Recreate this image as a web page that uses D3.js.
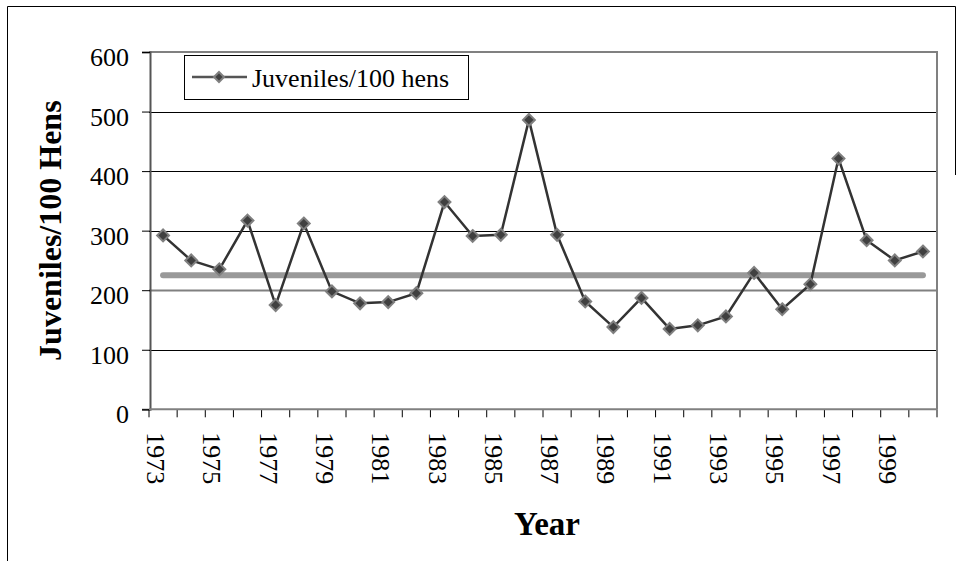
<!DOCTYPE html>
<html>
<head>
<meta charset="utf-8">
<script src="https://cdn.jsdelivr.net/npm/d3@7"></script>
<style>
  body { margin: 0; background: #fff; }
  text { font-family: "Liberation Serif", "Times New Roman", serif; }
</style>
</head>
<body>
<div id="chart"></div>
<script>
// data
var years = [1973, 1974, 1975, 1976, 1977, 1978, 1979, 1980, 1981, 1982, 1983, 1984, 1985, 1986,
             1987, 1988, 1989, 1990, 1991, 1992, 1993, 1994, 1995, 1996, 1997, 1998, 1999, 2000];
var juveniles = [292, 250, 235, 317, 175, 312, 198, 178, 180, 195, 348, 291, 293, 486,
                 293, 181, 138, 187, 135, 141, 156, 229, 168, 210, 421, 284, 250, 265];
var longTermAvg = 225;
var yTicks = [0, 100, 200, 300, 400, 500, 600];
var seriesName = "Juveniles/100 hens";

var width = 963, height = 561;
var margin = {top: 52, right: 26, bottom: 152, left: 149};

var svg = d3.select("#chart").append("svg")
    .attr("width", width)
    .attr("height", height);

// outer frame (cropped at the bottom in the original)
svg.append("path")
    .attr("d", "M7.5,561 V6.5 H955.5 V175")
    .attr("fill", "none")
    .attr("stroke", "#000")
    .attr("stroke-width", 1);

var x = d3.scaleBand()
    .domain(years)
    .range([margin.left, width - margin.right]);

var y = d3.scaleLinear()
    .domain([0, 600])
    .range([height - margin.bottom + 0.3, margin.top]);

var cx = function(d) { return x(d) + x.bandwidth() / 2; };

// gridlines
svg.append("g")
    .selectAll("line")
    .data(yTicks.filter(function(d) { return d > 0 && d < 600; }))
    .enter().append("line")
    .attr("x1", margin.left)
    .attr("x2", width - margin.right)
    .attr("y1", function(d) { return Math.round(y(d)) + 0.5; })
    .attr("y2", function(d) { return Math.round(y(d)) + 0.5; })
    .attr("stroke", function(d) { return d == 200 ? "#808080" : "#000"; })
    .attr("stroke-width", function(d) { return d == 200 ? 2 : 1; });

// plot area border (top / right)
svg.append("path")
    .attr("d", "M" + margin.left + "," + y(600) + " H" + (width - margin.right) + " V" + y(0))
    .attr("fill", "none")
    .attr("stroke", "#808080")
    .attr("stroke-width", 2);

// y axis
var yAxis = d3.axisLeft(y)
    .tickValues(yTicks)
    .tickSize(8)
    .tickFormat(d3.format("d"));

var gy = svg.append("g")
    .attr("transform", "translate(" + (margin.left + 1) + ",0)")
    .call(yAxis);
gy.select(".domain").attr("stroke", "#555").attr("stroke-width", 2);
gy.selectAll(".tick line").attr("stroke", "#000");
gy.selectAll(".tick text")
    .attr("x", -21)
    .attr("dy", "0.52em")
    .attr("font-size", 26)
    .attr("fill", "#000")
    .style("font-family", "Liberation Serif, serif");

// x axis: ticks on category boundaries
var gx = svg.append("g");
gx.selectAll("line")
    .data(years.concat([null]))
    .enter().append("line")
    .attr("x1", function(d, i) { return i < years.length ? x(d) : x(years[years.length - 1]) + x.bandwidth(); })
    .attr("x2", function(d, i) { return i < years.length ? x(d) : x(years[years.length - 1]) + x.bandwidth(); })
    .attr("y1", y(0))
    .attr("y2", y(0) + 8)
    .attr("stroke", "#000");
gx.append("line")
    .attr("x1", margin.left)
    .attr("x2", width - margin.right)
    .attr("y1", y(0))
    .attr("y2", y(0))
    .attr("stroke", "#808080")
    .attr("stroke-width", 2);

gx.selectAll("text")
    .data(years.filter(function(d, i) { return i % 2 == 0; }))
    .enter().append("text")
    .attr("transform", function(d) { return "translate(" + (cx(d) - 16) + "," + (y(0) + 23) + ") rotate(90)"; })
    .attr("font-size", 26)
    .attr("fill", "#000")
    .text(function(d) { return d; });

// long term average
svg.append("line")
    .attr("x1", cx(years[0]))
    .attr("x2", cx(years[years.length - 1]))
    .attr("y1", y(longTermAvg))
    .attr("y2", y(longTermAvg))
    .attr("stroke", "#999")
    .attr("stroke-width", 6)
    .attr("stroke-linecap", "round");

// series line
var line = d3.line()
    .x(function(d, i) { return cx(years[i]); })
    .y(function(d) { return y(d); });

svg.append("path")
    .datum(juveniles)
    .attr("d", line)
    .attr("fill", "none")
    .attr("stroke", "#333")
    .attr("stroke-width", 2.5);

var diamond = d3.symbol().type(d3.symbolDiamond2).size(90);

svg.append("g")
    .selectAll("path")
    .data(juveniles)
    .enter().append("path")
    .attr("d", diamond)
    .attr("transform", function(d, i) { return "translate(" + cx(years[i]) + "," + y(d) + ")"; })
    .attr("fill", "#404040")
    .attr("stroke", "#808080")
    .attr("stroke-width", 2);

// legend
var legend = svg.append("g");
legend.append("rect")
    .attr("x", 184.5)
    .attr("y", 55.5)
    .attr("width", 284)
    .attr("height", 44)
    .attr("fill", "#fff")
    .attr("stroke", "#000");
legend.append("line")
    .attr("x1", 192)
    .attr("x2", 247)
    .attr("y1", 77)
    .attr("y2", 77)
    .attr("stroke", "#555")
    .attr("stroke-width", 2.5);
legend.append("path")
    .attr("d", d3.symbol().type(d3.symbolDiamond2).size(64))
    .attr("transform", "translate(219,77)")
    .attr("fill", "#404040")
    .attr("stroke", "#808080")
    .attr("stroke-width", 2);
legend.append("text")
    .attr("x", 252)
    .attr("y", 87)
    .attr("font-size", 26)
    .attr("fill", "#000")
    .text(seriesName);

// axis titles
svg.append("text")
    .attr("transform", "translate(61," + ((y(0) + y(600)) / 2) + ") rotate(-90)")
    .attr("text-anchor", "middle")
    .attr("font-size", 32)
    .attr("font-weight", "bold")
    .attr("fill", "#000")
    .text("Juveniles/100 Hens");

svg.append("text")
    .attr("x", (margin.left + width - margin.right) / 2 + 4)
    .attr("y", 535)
    .attr("text-anchor", "middle")
    .attr("font-size", 33)
    .attr("font-weight", "bold")
    .attr("fill", "#000")
    .text("Year");
</script>
</body>
</html>
